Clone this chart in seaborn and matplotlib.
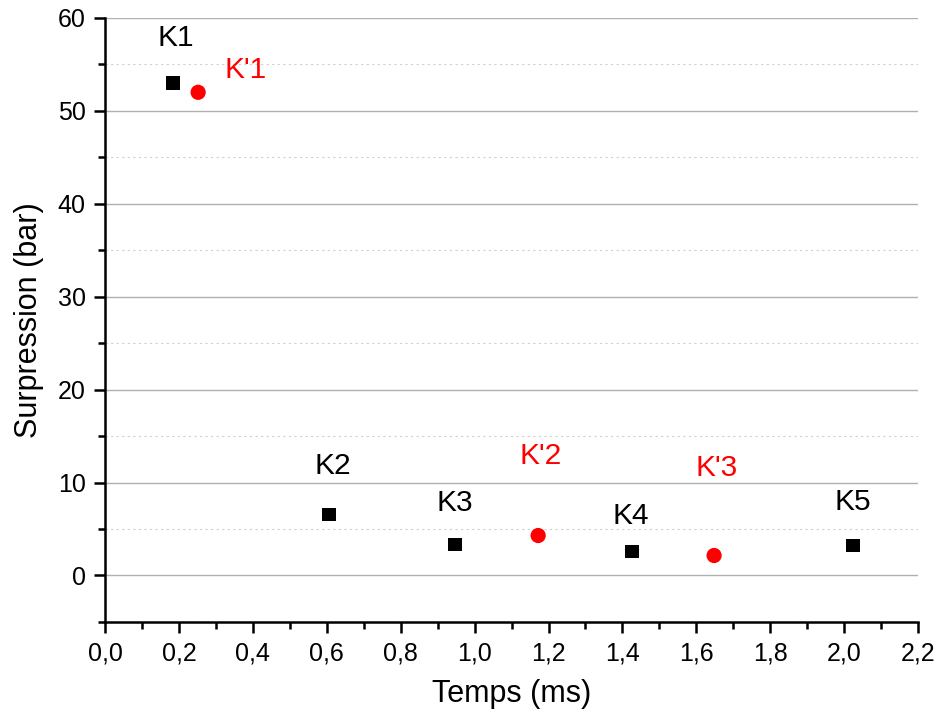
import numpy as np
import seaborn as sns
import pandas as pd
import matplotlib.pyplot as plt
from matplotlib.ticker import MultipleLocator, FuncFormatter

# mesures K (carres noirs) et K' (ronds rouges)
k_labels = ["K1", "K2", "K3", "K4", "K5"]
k_temps = [0.184, 0.606, 0.947, 1.426, 2.024]
k_surp = [53.0, 6.56, 3.33, 2.58, 3.23]

kp_labels = ["K'1", "K'2", "K'3"]
kp_temps = [0.252, 1.172, 1.648]
kp_surp = [52.0, 4.3, 2.15]

sns.set_style("white")
plt.rcParams['font.family'] = ['Liberation Sans', 'DejaVu Sans']
plt.rcParams['text.color'] = 'black'
plt.rcParams['axes.labelcolor'] = 'black'
plt.rcParams['xtick.color'] = 'black'
plt.rcParams['ytick.color'] = 'black'

df_k = pd.DataFrame({"Temps": k_temps, "Surpression": k_surp, "nom": k_labels})
df_kp = pd.DataFrame({"Temps": kp_temps, "Surpression": kp_surp, "nom": kp_labels})

fig = plt.figure(figsize=(9.4, 7.19), dpi=100)
ax = fig.add_axes([0.1117, 0.135, 0.865, 0.84])

sns.scatterplot(x="Temps", y="Surpression", data=df_k, marker="s", color="black",
                s=90, edgecolor="none", ax=ax, zorder=3)
sns.scatterplot(x="Temps", y="Surpression", data=df_kp, marker="o", color="#ff0000",
                s=120, edgecolor="none", ax=ax, zorder=3)

# etiquettes decalees en pixels par rapport au point
k_off = [(3, 45), (4, 49), (0, 42), (-1, 36), (0, 43)]
kp_off = [(47, 22), (2, 80), (3, 87)]
for (_, r), off in zip(df_k.iterrows(), k_off):
    ax.annotate(r["nom"], (r["Temps"], r["Surpression"]), xytext=off,
                textcoords="offset pixels", ha="center", va="center",
                fontsize=21.5, color="black")
for (_, r), off in zip(df_kp.iterrows(), kp_off):
    ax.annotate(r["nom"], (r["Temps"], r["Surpression"]), xytext=off,
                textcoords="offset pixels", ha="center", va="center",
                fontsize=21.5, color="#ff0000")

ax.set_xlim(0, 2.2)
ax.set_ylim(-5, 60)
ax.xaxis.set_major_locator(MultipleLocator(0.2))
ax.xaxis.set_minor_locator(MultipleLocator(0.1))
ax.yaxis.set_major_locator(MultipleLocator(10))
ax.yaxis.set_minor_locator(MultipleLocator(5))
ax.xaxis.set_major_formatter(FuncFormatter(lambda v, p: f"{v:.1f}".replace(".", ",")))
ax.yaxis.set_major_formatter(FuncFormatter(lambda v, p: f"{v:.0f}"))

ax.grid(which="major", axis="y", color="#b0b0b0", linewidth=1.0, linestyle="-")
ax.grid(which="minor", axis="y", color="#d0d0d0", linewidth=0.8, linestyle=(0, (2, 3)))
ax.set_axisbelow(True)

for s in ["top", "right"]:
    ax.spines[s].set_visible(False)
for s in ["left", "bottom"]:
    ax.spines[s].set_color("black")
    ax.spines[s].set_linewidth(1.8)

ax.tick_params(which="major", direction="out", length=8, width=1.8, labelsize=18,
               bottom=True, left=True, color="black", labelcolor="black", pad=6)
ax.tick_params(which="minor", direction="out", length=5, width=1.8,
               bottom=True, left=True, color="black")

ax.set_xlabel("Temps (ms)", fontsize=22, labelpad=10)
ax.set_ylabel("Surpression (bar)", fontsize=22, labelpad=10)

plt.savefig("out.png", dpi=100)
